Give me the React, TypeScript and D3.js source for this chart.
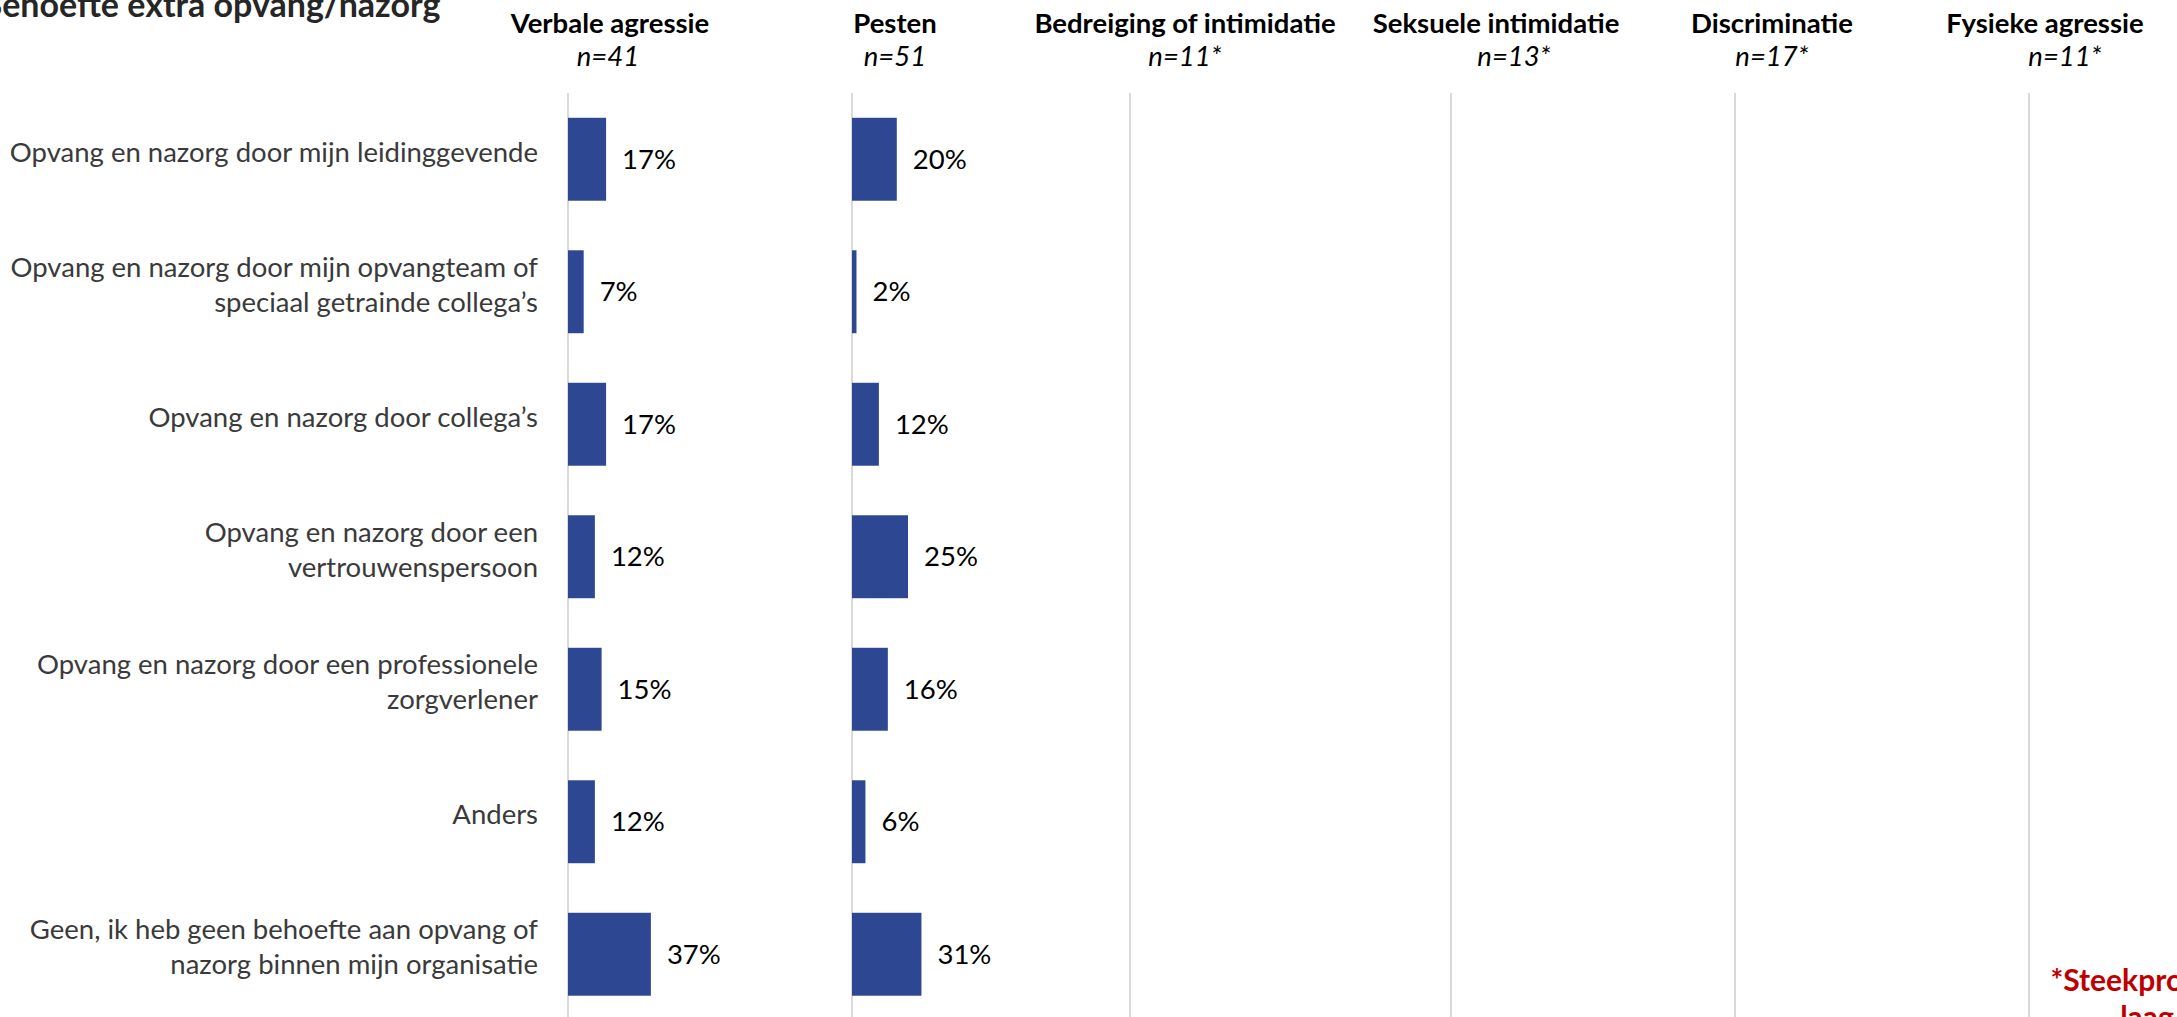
import React from "react";
import * as d3 from "d3";

// ---------- data ----------
const title = "Behoefte extra opvang/nazorg";

const categories = [
  "Opvang en nazorg door mijn leidinggevende",
  "Opvang en nazorg door mijn opvangteam of speciaal getrainde collega’s",
  "Opvang en nazorg door collega’s",
  "Opvang en nazorg door een vertrouwenspersoon",
  "Opvang en nazorg door een professionele zorgverlener",
  "Anders",
  "Geen, ik heb geen behoefte aan opvang of nazorg binnen mijn organisatie",
];

const categoryLines = [
  ["Opvang en nazorg door mijn leidinggevende"],
  ["Opvang en nazorg door mijn opvangteam of", "speciaal getrainde collega’s"],
  ["Opvang en nazorg door collega’s"],
  ["Opvang en nazorg door een", "vertrouwenspersoon"],
  ["Opvang en nazorg door een professionele", "zorgverlener"],
  ["Anders"],
  ["Geen, ik heb geen behoefte aan opvang of", "nazorg binnen mijn organisatie"],
];

const panelTitles = [
  "Verbale agressie",
  "Pesten",
  "Bedreiging of intimidatie",
  "Seksuele intimidatie",
  "Discriminatie",
  "Fysieke agressie",
];
const panelN = ["n=41", "n=51", "n=11*", "n=13*", "n=17*", "n=11*"];

const verbaleValues = [17, 7, 17, 12, 15, 12, 37];
const pestenValues = [20, 2, 12, 25, 16, 6, 31];
// panels with too small a sample show no bars
const panelValues: (number[] | null)[] = [verbaleValues, pestenValues, null, null, null, null];

const footnoteLines = ["*Steekproef te", "laag"];

// ---------- layout ----------
const W = 2177;
const H = 1017;
const panelAxisX = [568, 852, 1130, 1451, 1735, 2029];
const panelTitleX = [610, 895, 1185, 1496, 1772, 2045];
const panelNX = [608, 895, 1185, 1514, 1772, 2065];

const FONT = "Lato, 'Open Sans', sans-serif";
const BAR = "#2E4793";

export default function App() {
  const y = d3
    .scaleBand<string>()
    .domain(categories)
    .range([93, 1020.5])
    .paddingInner(0.374)
    .paddingOuter(0.187);
  const x = d3.scaleLinear().domain([0, 100]).range([0, 224]);
  const fmt = (v: number) => `${d3.format("d")(v)}%`;

  return (
    <svg
      width={W}
      height={H}
      style={{ position: "absolute", left: 0, top: 0, background: "#fff" }}
      fontFamily={FONT}
    >
      <rect x={0} y={0} width={W} height={H} fill="#fff" />
      {/* title (cut off at left edge as in the source) */}
      <text x={-20} y={17} fontSize={34} fontWeight={700} fill="#262626">
        {title}
      </text>

      {/* category labels */}
      {categories.map((c, i) => {
        const cy = (y(c) as number) + y.bandwidth() / 2 - 7;
        const lines = categoryLines[i];
        const lh = 35;
        return (
          <text key={c} textAnchor="end" fontSize={27.5} fill="#3a3a3a">
            {lines.map((l, j) => (
              <tspan key={j} x={538} y={cy + (j - (lines.length - 1) / 2) * lh + 9.5}>
                {l}
              </tspan>
            ))}
          </text>
        );
      })}

      {/* panels */}
      {panelTitles.map((t, p) => {
        const ax = panelAxisX[p];
        const vals = panelValues[p];
        return (
          <g key={t}>
            <text x={panelTitleX[p]} y={33} textAnchor="middle" fontSize={27.5} fontWeight={700} fill="#000">
              {t}
            </text>
            <text x={panelNX[p]} y={66} textAnchor="middle" fontSize={27.5} fontStyle="italic" fill="#000">
              {panelN[p]}
            </text>
            <line x1={ax} x2={ax} y1={93} y2={H} stroke="#D9D9D9" strokeWidth={2} />
            {vals &&
              categories.map((c, i) => {
                const v = vals[i];
                const by = y(c) as number;
                return (
                  <g key={c}>
                    <rect x={ax} y={by} width={x(v)} height={y.bandwidth()} fill={BAR} />
                    <text
                      x={ax + x(v) + 16}
                      y={by + y.bandwidth() / 2 + 9.5}
                      fontSize={27.5}
                      fill="#000"
                    >
                      {fmt(v)}
                    </text>
                  </g>
                );
              })}
          </g>
        );
      })}

      {/* footnote */}
      <text textAnchor="middle" fontSize={30} fontWeight={700} fill="#C00000">
        {footnoteLines.map((l, j) => (
          <tspan key={j} x={2147} y={991 + j * 37}>
            {l}
          </tspan>
        ))}
      </text>
    </svg>
  );
}
